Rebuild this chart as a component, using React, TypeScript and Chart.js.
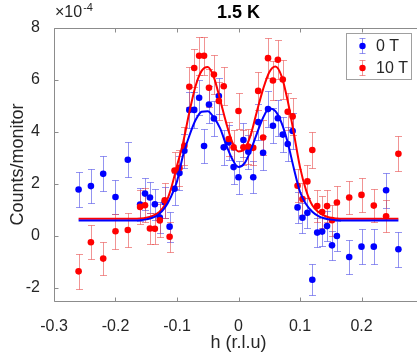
import React, { useEffect, useRef } from 'react';
import { Chart, registerables } from 'chart.js';

Chart.register(...registerables);

// ---- data (×1e-4) ----
const hValues = [
  -0.26, -0.24, -0.22, -0.2, -0.18,
  -0.16, -0.152, -0.144, -0.136, -0.128, -0.12, -0.112, -0.104, -0.096, -0.088,
  -0.08, -0.072, -0.064, -0.056, -0.048, -0.04, -0.032, -0.024, -0.016, -0.008,
  0, 0.008, 0.016, 0.024, 0.032, 0.04, 0.048, 0.056, 0.064, 0.072,
  0.08, 0.088, 0.096, 0.104, 0.112, 0.12, 0.128, 0.136, 0.144, 0.152,
  0.16,
  0.18, 0.2, 0.22, 0.24, 0.26,
];
const counts0T = [
  1.79, 1.92, 2.39, 1.5, 2.93,
  1.21, 1.63, 1.48, 1.22, 0.71, 1.3, 0.36, 1.82, 2.42, 3.28,
  4.85, 4.85, 5.32, 3.46, 5.06, 4.52, 5.38, 3.41, 3.6, 2.65,
  2.26, 3.69, 3.24, 2.26, 4.38, 3.2, 4.88, 4.24, 4.53, 3.9,
  3.54, 4.04, 1.1, 0.7, 0.89, -1.68, 0.13, 0.17, 0.38, -0.36,
  0.0,
  -0.81, -0.41, -0.41, 1.76, -0.51,
];
const counts10T = [
  -1.36, -0.24, -0.87, 0.18, 0.23,
  1.12, 1.18, 0.29, 0.28, 0.6, 1.37, -0.03, 2.52, 2.62, 3.47,
  5.74, 6.46, 6.93, 6.93, 5.7, 6.21, 5.19, 5.76, 3.73, 3.41,
  4.81, 3.41, 3.44, 3.39, 5.58, 3.79, 6.84, 5.98, 6.78, 6.02,
  4.78, 4.6, 1.93, 1.42, 2.1, 3.31, 1.15, 0.92, 1.15, 0.61,
  1.29,
  1.48, 1.58, 1.17, 0.76, 3.16,
];
const err0T = [
  0.67, 0.67, 0.67, 0.67, 0.67,
  0.62, 0.62, 0.6, 0.6, 0.58, 0.6, 0.58, 0.62, 0.64, 0.66,
  0.7, 0.7, 0.68, 0.66, 0.7, 0.68, 0.7, 0.66, 0.66, 0.64,
  0.64, 0.66, 0.66, 0.62, 0.68, 0.66, 0.7, 0.68, 0.7, 0.68,
  0.66, 0.68, 0.6, 0.58, 0.58, 0.59, 0.57, 0.57, 0.58, 0.56,
  0.57,
  0.67, 0.67, 0.67, 0.68, 0.67,
];
const err10T = [
  0.67, 0.65, 0.64, 0.67, 0.67,
  0.66, 0.66, 0.6, 0.6, 0.62, 0.66, 0.58, 0.7, 0.7, 0.72,
  0.76, 0.74, 0.72, 0.72, 0.74, 0.74, 0.72, 0.74, 0.66, 0.66,
  0.7, 0.66, 0.66, 0.66, 0.74, 0.68, 0.76, 0.74, 0.76, 0.74,
  0.72, 0.72, 0.64, 0.62, 0.64, 0.68, 0.62, 0.6, 0.62, 0.6,
  0.62,
  0.64, 0.66, 0.64, 0.62, 0.67,
];

// fitted curves
const fitH = [
  -0.26, -0.18, -0.17, -0.16, -0.15, -0.14, -0.13, -0.12, -0.11, -0.1, -0.09,
  -0.08, -0.07, -0.06, -0.05, -0.04, -0.03, -0.02, -0.01, 0, 0.01, 0.02, 0.03,
  0.04, 0.05, 0.06, 0.07, 0.08, 0.09, 0.1, 0.11, 0.12, 0.13, 0.14, 0.15, 0.16,
  0.17, 0.18, 0.26,
];
const fit0T = [
  0.6, 0.6, 0.6, 0.61, 0.64, 0.7, 0.83, 1.08, 1.5, 2.1, 3.12,
  3.85, 4.45, 4.78, 4.8, 4.55, 4.15, 3.5, 2.95, 2.65, 2.8, 3.3, 3.95,
  4.55, 4.9, 4.8, 4.35, 3.6, 2.6, 1.7, 1.22, 0.93, 0.76, 0.67, 0.63, 0.61,
  0.6, 0.6, 0.6,
];
const fit10T = [
  0.66, 0.66, 0.66, 0.67, 0.7, 0.77, 0.9, 1.18, 1.8, 2.7, 3.6,
  4.75, 5.75, 6.35, 6.5, 6.1, 5.25, 4.35, 3.6, 3.25, 3.35, 3.9, 4.8,
  5.65, 6.3, 6.52, 6.15, 5.2, 3.95, 2.65, 1.75, 1.18, 0.92, 0.78, 0.7, 0.67,
  0.66, 0.66, 0.66,
];

const xTickValues = [-0.3, -0.2, -0.1, 0, 0.1, 0.2];
const yTickValues = [-2, 0, 2, 4, 6, 8];
const legendLabels = ['0 T', '10 T'];
const titleText = '1.5 K';
const xTitle = 'h (r.l.u)';
const yTitle = 'Counts/monitor';
const exponentBase = '\u00d710';
const exponentPower = '-4';

const FONT = '"Liberation Sans", Arial, Helvetica, sans-serif';
const BLUE = '#0000ff';
const RED = '#ff0000';
const BLUE_ERR = 'rgba(60,60,230,0.55)';
const RED_ERR = 'rgba(230,60,60,0.55)';
const AXIS = '#8c8c8c';
const TEXT = '#262626';

const errorBarPlugin = {
  id: 'errorBars',
  beforeDatasetsDraw(chart: any) {
    const { ctx, scales } = chart;
    const x = scales.x;
    const y = scales.y;
    const sets = [
      { vals: counts0T, errs: err0T, color: BLUE_ERR },
      { vals: counts10T, errs: err10T, color: RED_ERR },
    ];
    ctx.save();
    ctx.lineWidth = 1;
    sets.forEach((s) => {
      ctx.strokeStyle = s.color;
      hValues.forEach((h, i) => {
        const px = Math.round(x.getPixelForValue(h)) + 0.5;
        const y1 = Math.round(y.getPixelForValue(s.vals[i] + s.errs[i])) + 0.5;
        const y2 = Math.round(y.getPixelForValue(s.vals[i] - s.errs[i])) + 0.5;
        ctx.beginPath();
        ctx.moveTo(px, y1);
        ctx.lineTo(px, y2);
        ctx.moveTo(px - 3.5, y1);
        ctx.lineTo(px + 3.5, y1);
        ctx.moveTo(px - 3.5, y2);
        ctx.lineTo(px + 3.5, y2);
        ctx.stroke();
      });
    });
    ctx.restore();
  },
};

const framePlugin = {
  id: 'frame',
  beforeDatasetsDraw(chart: any) {
    const { ctx, chartArea, scales } = chart;
    const { left, right, top, bottom } = chartArea;
    ctx.save();
    ctx.strokeStyle = AXIS;
    ctx.lineWidth = 1;
    ctx.beginPath();
    const l = Math.round(left) + 0.5;
    const b = Math.round(bottom) + 0.5;
    const t = Math.round(top) + 0.5;
    ctx.moveTo(l, t);
    ctx.lineTo(l, b);
    ctx.lineTo(right + 2, b);
    ctx.moveTo(l, t);
    ctx.lineTo(right + 2, t);
    xTickValues.forEach((v) => {
      const px = Math.round(scales.x.getPixelForValue(v)) + 0.5;
      ctx.moveTo(px, b);
      ctx.lineTo(px, b - 4);
      ctx.moveTo(px, t);
      ctx.lineTo(px, t + 4);
    });
    yTickValues.forEach((v) => {
      const py = Math.round(scales.y.getPixelForValue(v)) + 0.5;
      ctx.moveTo(l, py);
      ctx.lineTo(l + 4, py);
    });
    ctx.stroke();
    ctx.restore();
  },
  afterDraw(chart: any) {
    const { ctx, chartArea } = chart;
    ctx.save();
    // title
    ctx.fillStyle = '#000';
    ctx.font = `bold 18px ${FONT}`;
    ctx.textAlign = 'center';
    ctx.textBaseline = 'middle';
    ctx.fillText(titleText, (chartArea.left + chartArea.right) / 2, 13);
    // exponent
    ctx.fillStyle = TEXT;
    ctx.textAlign = 'left';
    ctx.textBaseline = 'alphabetic';
    ctx.font = `16px ${FONT}`;
    ctx.fillText(exponentBase, 55, 17);
    const w = ctx.measureText(exponentBase).width;
    ctx.font = `11px ${FONT}`;
    ctx.fillText(exponentPower, 55 + w + 1, 11);
    // legend
    const bx = 346.5, by = 33.5, bw = 65, bh = 46;
    ctx.fillStyle = '#ffffff';
    ctx.fillRect(bx, by, bw, bh);
    ctx.strokeStyle = '#a0a0a0';
    ctx.lineWidth = 1;
    ctx.strokeRect(bx, by, bw, bh);
    const entries = [
      { label: legendLabels[0], color: BLUE, err: BLUE_ERR, y: 46 },
      { label: legendLabels[1], color: RED, err: RED_ERR, y: 68 },
    ];
    entries.forEach((e) => {
      const mx = 362.5;
      ctx.strokeStyle = e.err;
      ctx.beginPath();
      ctx.moveTo(mx, e.y - 7.5);
      ctx.lineTo(mx, e.y + 7.5);
      ctx.moveTo(mx - 3, e.y - 7.5);
      ctx.lineTo(mx + 3, e.y - 7.5);
      ctx.moveTo(mx - 3, e.y + 7.5);
      ctx.lineTo(mx + 3, e.y + 7.5);
      ctx.stroke();
      ctx.fillStyle = e.color;
      ctx.beginPath();
      ctx.arc(mx, e.y, 3.2, 0, Math.PI * 2);
      ctx.fill();
      ctx.fillStyle = TEXT;
      ctx.font = `16px ${FONT}`;
      ctx.textAlign = 'left';
      ctx.textBaseline = 'middle';
      ctx.fillText(e.label, 376, e.y + 1);
    });
    ctx.restore();
  },
};

export default function App() {
  const canvasRef = useRef<HTMLCanvasElement | null>(null);

  useEffect(() => {
    document.body.style.margin = '0';
    document.body.style.overflow = 'hidden';
    const canvas = canvasRef.current;
    if (!canvas) return;
    const chart = new Chart(canvas, {
      type: 'scatter',
      data: {
        datasets: [
          {
            label: '0 T fit',
            data: fitH.map((h, i) => ({ x: h, y: fit0T[i] })),
            showLine: true,
            borderColor: BLUE,
            backgroundColor: BLUE,
            borderWidth: 2,
            pointRadius: 0,
            cubicInterpolationMode: 'monotone',
            order: 0,
          } as any,
          {
            label: '10 T fit',
            data: fitH.map((h, i) => ({ x: h, y: fit10T[i] })),
            showLine: true,
            borderColor: RED,
            backgroundColor: RED,
            borderWidth: 2,
            pointRadius: 0,
            cubicInterpolationMode: 'monotone',
            order: 1,
          } as any,
          {
            label: legendLabels[1],
            data: hValues.map((h, i) => ({ x: h, y: counts10T[i] })),
            pointRadius: 3.3,
            backgroundColor: RED,
            borderColor: RED,
            borderWidth: 0,
            order: 2,
          },
          {
            label: legendLabels[0],
            data: hValues.map((h, i) => ({ x: h, y: counts0T[i] })),
            pointRadius: 3.3,
            backgroundColor: BLUE,
            borderColor: BLUE,
            borderWidth: 0,
            order: 3,
          },
        ],
      },
      options: {
        animation: false,
        responsive: false,
        devicePixelRatio: 1,
        layout: { padding: { left: 0, right: 17, top: 28, bottom: 0 } },
        plugins: {
          legend: { display: false },
          tooltip: { enabled: false },
          title: { display: false },
        },
        scales: {
          x: {
            type: 'linear',
            min: -0.3,
            max: 0.3,
            afterBuildTicks: (s: any) => {
              s.ticks = xTickValues.map((v) => ({ value: v }));
            },
            afterFit: (s: any) => {
              s.height = 55;
            },
            grid: { display: false },
            border: { display: false },
            ticks: {
              padding: 8,
              color: TEXT,
              font: { family: FONT, size: 16 },
              maxRotation: 0,
              autoSkip: false,
              callback: (v: any) => {
                const r = Math.round(Number(v) * 10) / 10;
                return r === 0 ? '0' : String(r);
              },
            },
            title: {
              display: true,
              text: xTitle,
              color: TEXT,
              font: { family: FONT, size: 18 },
              padding: { top: 0, bottom: 2 },
            },
          },
          y: {
            type: 'linear',
            min: -2.5,
            max: 8,
            afterBuildTicks: (s: any) => {
              s.ticks = yTickValues.map((v) => ({ value: v }));
            },
            afterFit: (s: any) => {
              s.width = 54;
            },
            grid: { display: false },
            border: { display: false },
            ticks: {
              padding: 6,
              color: TEXT,
              font: { family: FONT, size: 16 },
              autoSkip: false,
              callback: (v: any) => String(v),
            },
            title: {
              display: true,
              text: yTitle,
              color: TEXT,
              font: { family: FONT, size: 18 },
              padding: { top: 7, bottom: 0 },
            },
          },
        },
      },
      plugins: [errorBarPlugin, framePlugin],
    });
    return () => chart.destroy();
  }, []);

  return (
    <div style={{ width: 417, height: 356, overflow: 'hidden' }}>
      <canvas ref={canvasRef} width={440} height={356} style={{ display: 'block', width: 440, height: 356 }} />
    </div>
  );
}
